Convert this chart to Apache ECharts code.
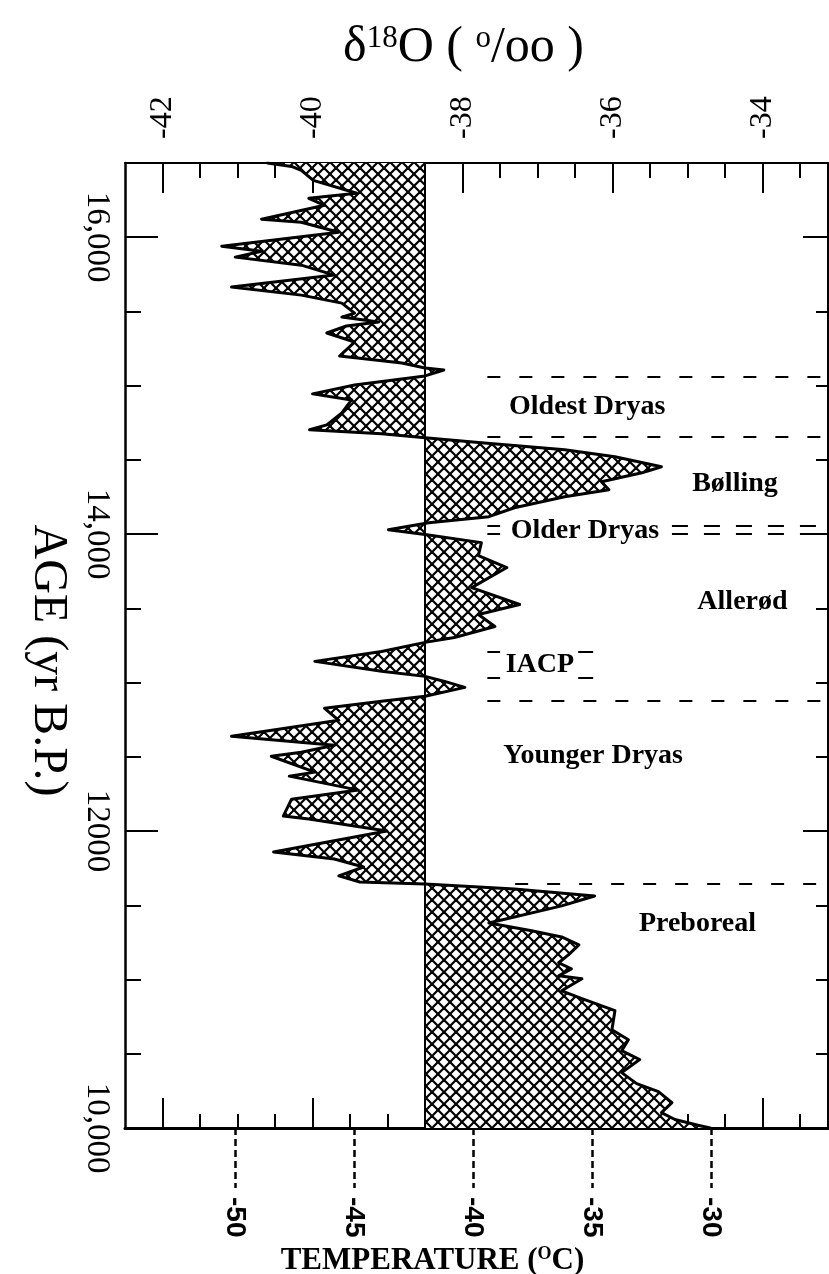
<!DOCTYPE html>
<html><head><meta charset="utf-8">
<script src="https://cdn.jsdelivr.net/npm/echarts@6/dist/echarts.min.js"></script>
<style>html,body{margin:0;padding:0;background:#fff}#c{width:829px;height:1274px}</style>
</head><body><div id="c"></div>
<script>
// ---- data ----
const ages = [16500, 16477, 16450, 16383, 16296, 16262, 16215, 16121, 16101, 16034,
  15940, 15906, 15866, 15812, 15745, 15664, 15610, 15556, 15489, 15462,
  15429, 15402, 15355, 15294, 15200, 15153, 15119, 15106, 15066, 15005,
  14945, 14904, 14817, 14736, 14703, 14676, 14649, 14615, 14568, 14521,
  14454, 14413, 14353, 14299, 14252, 14178, 14118, 14077, 14030, 13997,
  13943, 13855, 13775, 13640, 13526, 13459, 13378, 13304, 13271, 13210,
  13143, 13076, 13042, 13008, 12968, 12908, 12874, 12827, 12746, 12639,
  12578, 12531, 12504, 12397, 12370, 12276, 12215, 12101, 12081, 12000,
  11859, 11812, 11758, 11698, 11657, 11644, 11610, 11563, 11496, 11381,
  11328, 11287, 11234, 11166, 11113, 11072, 11025, 11005, 10924, 10871,
  10790, 10662, 10595, 10521, 10461, 10373, 10299, 10245, 10171, 10104,
  10057, 10017, 10000];
const d18O = [-40.6, -40.28, -40.15, -39.99, -39.41, -40.05, -39.84, -40.68, -40.15, -39.65,
  -41.21, -40.68, -41.03, -40.15, -39.71, -41.08, -40.15, -39.61, -39.44, -39.61,
  -39.12, -39.55, -39.81, -39.44, -39.64, -38.81, -38.5, -38.25, -38.5, -39.44,
  -40.0, -39.48, -39.61, -39.81, -40.04, -39.08, -38.5, -37.75, -36.64, -35.97,
  -35.35, -35.61, -36.15, -36.05, -36.64, -37.31, -37.65, -38.45, -38.99, -38.5,
  -37.75, -37.79, -37.41, -37.88, -37.24, -37.79, -37.57, -38.11, -38.5, -39.08,
  -39.97, -39.08, -38.5, -38.24, -37.97, -38.5, -39.08, -39.84, -39.65, -41.08,
  -39.71, -40.15, -40.55, -39.97, -40.31, -39.39, -40.28, -40.39, -40.05, -39.01,
  -40.52, -39.71, -39.32, -39.65, -39.37, -38.5, -37.31, -36.24, -36.68, -37.65,
  -37.08, -36.68, -36.45, -36.59, -36.72, -36.55, -36.72, -36.41, -36.68, -36.41,
  -35.97, -36.01, -35.79, -35.88, -35.64, -35.88, -35.68, -35.39, -35.21, -35.35,
  -35.17, -34.85, -34.7];
const baseline = -38.5;

const d18OMinorTicks = [-42, -41.5, -41, -40.5, -40, -39.5, -39, -38.5, -38, -37.5, -37, -36.5, -36, -35.5, -35, -34.5, -34, -33.5];
const d18OMajorTicks = [-42, -40, -38, -36, -34];
const ageMinorTicks = [10500, 11000, 11500, 12000, 12500, 13000, 13500, 14000, 14500, 15000, 15500, 16000];
const ageMajorTicks = [12000, 14000, 16000];
const ageTickLabels = [10000, 12000, 14000, 16000];
const ageLabelText = {10000: '10,000', 12000: '12000', 14000: '14,000', 16000: '16,000'};
const tempTicks = [-50, -45, -40, -35, -30];

const periodNames = ['Oldest Dryas', 'Bølling', 'Older Dryas', 'Allerød', 'IACP', 'Younger Dryas', 'Preboreal'];
const periodAge = [14857, 14340, 14024, 13546, 13123, 12504, 11375];
const periodD18O = [-36.34, -34.37, -36.37, -34.27, -36.97, -36.26, -34.87];

const boundaryAges = [15060, 14655, 12875, 11645];
const boundaryFrom = [-37.67, -37.67, -37.67, -37.3];
const olderDryasAges = [14057, 14003];
const olderDryasLeft = [-37.67, -37.5];
const olderDryasRightFrom = -35.21;
const iacpAges = [13210, 13035];
const iacpLeft = [-37.67, -37.5];
const iacpRight = [-36.46, -36.26];

// ---- axis ranges ----
const X_MIN = -42.5, X_MAX = -33.13;
const T_MIN = -54.62, T_MAX = -25.08;
const Y_MIN = 10000, Y_MAX = 16500;

// crosshatch pattern
const pc = document.createElement('canvas');
pc.width = 12; pc.height = 12;
const g = pc.getContext('2d');
g.fillStyle = '#fff'; g.fillRect(0, 0, 12, 12);
g.strokeStyle = '#000'; g.lineWidth = 2.2;
for (const k of [-12, 0, 12]) {
  g.beginPath(); g.moveTo(k, 0); g.lineTo(k + 12, 12); g.stroke();
  g.beginPath(); g.moveTo(k + 12, 0); g.lineTo(k, 12); g.stroke();
}
const hatch = {image: pc, repeat: 'repeat'};

const numFont = 'Liberation Sans Narrow';
const serif = 'Liberation Serif';

const dash = {color: '#000', width: 2, type: [13, 19]};
const solid = {color: '#000', width: 2, type: 'solid'};
const mlData = [[{coord: [baseline, Y_MIN], lineStyle: solid}, {coord: [baseline, Y_MAX]}]];
boundaryAges.forEach((a, i) => mlData.push([{coord: [boundaryFrom[i], a], lineStyle: dash}, {coord: [X_MAX, a]}]));
olderDryasAges.forEach(a => {
  mlData.push([{coord: [olderDryasLeft[0], a], lineStyle: solid}, {coord: [olderDryasLeft[1], a]}]);
  mlData.push([{coord: [olderDryasRightFrom, a], lineStyle: {color: '#000', width: 2, type: [16, 16]}}, {coord: [X_MAX, a]}]);
});
iacpAges.forEach(a => {
  mlData.push([{coord: [iacpLeft[0], a], lineStyle: solid}, {coord: [iacpLeft[1], a]}]);
  mlData.push([{coord: [iacpRight[0], a], lineStyle: solid}, {coord: [iacpRight[1], a]}]);
});

const chart = echarts.init(document.getElementById('c'), null, {renderer: 'canvas'});
const tickStyle = {color: '#000', width: 2};
chart.setOption({
  animation: false,
  backgroundColor: '#fff',
  grid: {left: 125, top: 163, right: 1, bottom: 146, containLabel: false, outerBoundsMode: 'none'},
  xAxis: [
    {type: 'value', position: 'top', min: X_MIN, max: X_MAX,
      axisLine: {show: true, lineStyle: {color: '#000', width: 2}},
      axisTick: {show: true, inside: true, length: 15, customValues: d18OMinorTicks, lineStyle: tickStyle},
      axisLabel: {show: true, customValues: d18OMajorTicks, rotate: -90, margin: 24, color: '#000', fontFamily: numFont, fontSize: 32},
      splitLine: {show: false},
      name: '{a|δ}{s|18}{a|O ( }{s|o}{a|/oo )}', nameLocation: 'middle', nameGap: 90,
      nameTextStyle: {color: '#000', padding: [0, 26, 0, 0], rich: {
        a: {fontFamily: serif, fontSize: 50, color: '#000'},
        s: {fontFamily: serif, fontSize: 31, color: '#000', verticalAlign: 'top'}}}},
    {type: 'value', position: 'top', min: X_MIN, max: X_MAX,
      axisLine: {show: false}, axisLabel: {show: false}, splitLine: {show: false},
      axisTick: {show: true, inside: true, length: 30, customValues: d18OMajorTicks, lineStyle: tickStyle}},
    {type: 'value', position: 'bottom', min: X_MIN, max: X_MAX,
      axisLine: {show: true, lineStyle: {color: '#000', width: 3}},
      axisTick: {show: true, inside: true, length: 14, customValues: d18OMinorTicks, lineStyle: tickStyle},
      axisLabel: {show: false}, splitLine: {show: false}},
    {type: 'value', position: 'bottom', min: X_MIN, max: X_MAX,
      axisLine: {show: false}, axisLabel: {show: false}, splitLine: {show: false},
      axisTick: {show: true, inside: true, length: 30, customValues: d18OMajorTicks, lineStyle: tickStyle}},
    {type: 'value', position: 'bottom', min: T_MIN, max: T_MAX,
      axisLine: {show: false}, splitLine: {show: false},
      axisTick: {show: true, inside: false, length: 60, customValues: tempTicks, lineStyle: {color: '#000', width: 2.5, type: [7, 4]}},
      axisLabel: {show: true, customValues: tempTicks, rotate: -90, margin: 69, color: '#000', fontFamily: 'Liberation Sans', fontWeight: 'bold', fontSize: 28},
      name: '{a|TEMPERATURE (}{s|O}{a|C)}', nameLocation: 'middle', nameGap: 116,
      nameTextStyle: {color: '#000', padding: [0, 88, 0, 0], rich: {
        a: {fontFamily: serif, fontWeight: 'bold', fontSize: 31, color: '#000'},
        s: {fontFamily: serif, fontWeight: 'bold', fontSize: 18, color: '#000', verticalAlign: 'top'}}}}
  ],
  yAxis: [
    {type: 'value', position: 'left', min: Y_MIN, max: Y_MAX,
      axisLine: {show: true, lineStyle: {color: '#000', width: 2.5}},
      axisTick: {show: true, inside: true, length: 16, customValues: ageMinorTicks, lineStyle: tickStyle},
      axisLabel: {show: true, customValues: ageTickLabels, formatter: v => ageLabelText[v], rotate: -90, margin: 12,
        color: '#000', fontFamily: numFont, fontSize: 33},
      splitLine: {show: false},
      name: 'AGE (yr B.P.)', nameLocation: 'middle', nameRotate: -90, nameGap: 38,
      nameTextStyle: {color: '#000', fontFamily: serif, fontSize: 48, padding: [0, 0, 0, 30]}},
    {type: 'value', position: 'left', min: Y_MIN, max: Y_MAX,
      axisLine: {show: false}, axisLabel: {show: false}, splitLine: {show: false},
      axisTick: {show: true, inside: true, length: 33, customValues: ageMajorTicks, lineStyle: tickStyle}},
    {type: 'value', position: 'right', min: Y_MIN, max: Y_MAX,
      axisLine: {show: true, lineStyle: {color: '#000', width: 2}},
      axisTick: {show: true, inside: true, length: 12, customValues: ageMinorTicks, lineStyle: tickStyle},
      axisLabel: {show: false}, splitLine: {show: false}},
    {type: 'value', position: 'right', min: Y_MIN, max: Y_MAX,
      axisLine: {show: false}, axisLabel: {show: false}, splitLine: {show: false},
      axisTick: {show: true, inside: true, length: 25, customValues: ageMajorTicks, lineStyle: tickStyle}}
  ],
  series: [
    {type: 'custom', xAxisIndex: 0, yAxisIndex: 0, silent: true, z: 1, clip: true,
      data: [[baseline, ages[0]]],
      renderItem: function (params, api) {
        if (params.dataIndex !== 0) return null;
        const pts = [api.coord([baseline, ages[0]])];
        for (let i = 0; i < ages.length; i++) pts.push(api.coord([d18O[i], ages[i]]));
        pts.push(api.coord([baseline, ages[ages.length - 1]]));
        return {type: 'polygon', shape: {points: pts}, style: {fill: hatch, stroke: null}};
      }},
    {type: 'line', xAxisIndex: 0, yAxisIndex: 0, z: 3, silent: true,
      data: ages.map((a, i) => [d18O[i], a]),
      symbol: 'none', lineStyle: {color: '#000', width: 3, join: 'round', cap: 'round'},
      markLine: {silent: true, symbol: 'none', animation: false, label: {show: false}, data: mlData}},
    {type: 'scatter', xAxisIndex: 0, yAxisIndex: 0, z: 5, silent: true, symbolSize: 0,
      itemStyle: {color: '#000', opacity: 1},
      data: periodNames.map((n, i) => ({name: n, value: [periodD18O[i], periodAge[i]]})),
      label: {show: true, position: 'inside', formatter: '{b}', color: '#000', opacity: 1, textBorderWidth: 0,
        fontFamily: serif, fontWeight: 'bold', fontSize: 28}}
  ]
});
</script></body></html>
